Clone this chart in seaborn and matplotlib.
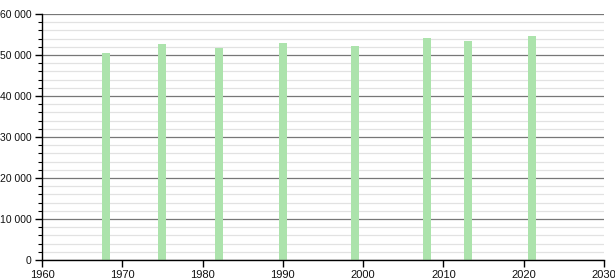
import matplotlib
matplotlib.use("Agg")
import matplotlib.pyplot as plt
import matplotlib.ticker as mticker
import seaborn as sns
import pandas as pd

years = [1968, 1975, 1982, 1990, 1999, 2008, 2013, 2021]
population = [50500, 52700, 51700, 53000, 52200, 54200, 53400, 54600]

sns.set_theme(style="white")
plt.rcParams['font.family'] = ['Liberation Sans', 'DejaVu Sans']

df = pd.DataFrame({"year": years, "pop": population})

fig = plt.figure(figsize=(6.15, 2.8), dpi=100)
ax = fig.add_axes([42/615, 20/280, (604-42)/615, (260-14)/280])

# grid
for v in range(0, 60001, 2000):
    if v % 10000 == 0:
        ax.axhline(v, color="#777777", lw=0.9, zorder=1)
    else:
        ax.axhline(v, color="#e2e2e2", lw=0.9, zorder=0)

sns.barplot(data=df, x="year", y="pop", native_scale=True, width=0.2,
            color="#ace3ac", saturation=1, linewidth=0, errorbar=None,
            ax=ax, zorder=2)

ax.set_xlim(1960, 2030)
ax.set_ylim(0, 60000)
ax.set_xticks(range(1960, 2031, 10))
ax.set_yticks(range(0, 60001, 10000))
ax.yaxis.set_minor_locator(mticker.MultipleLocator(2000))
ax.yaxis.set_major_formatter(mticker.FuncFormatter(
    lambda v, p: f"{int(v):,}".replace(",", " ")))
ax.set_xlabel("")
ax.set_ylabel("")

for s in ["top", "right"]:
    ax.spines[s].set_visible(False)
for s in ["left", "bottom"]:
    ax.spines[s].set_color("black")
    ax.spines[s].set_linewidth(1.0)

ax.tick_params(axis="x", which="major", direction="out", length=5,
               width=1, color="black", labelsize=8, labelcolor="#111111",
               pad=2)
ax.tick_params(axis="y", which="major", direction="out", length=5,
               width=1, color="black", labelsize=7.5, labelcolor="#111111",
               pad=2.6)
ax.tick_params(axis="y", which="minor", direction="out", length=3,
               width=0.8, color="black", left=True)
ax.tick_params(axis="x", which="both", bottom=True)
ax.tick_params(axis="y", which="both", left=True)

fig.savefig("out.png", dpi=100)
